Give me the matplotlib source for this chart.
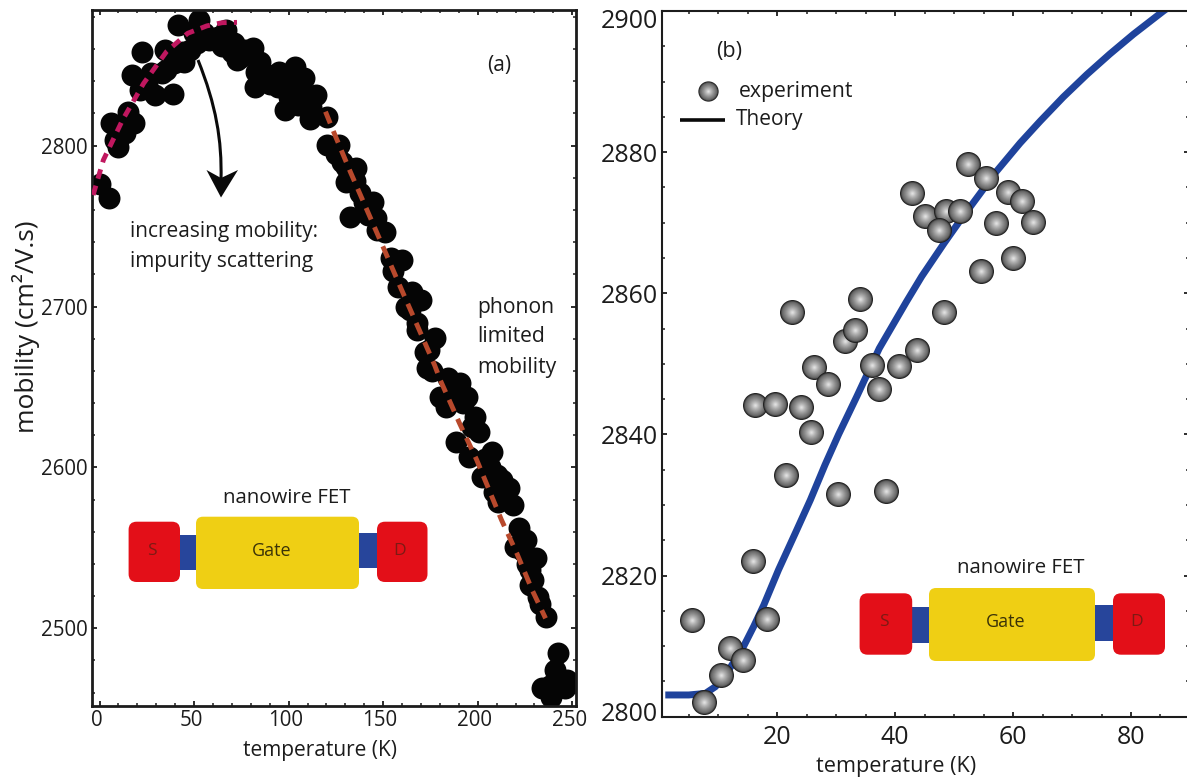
import numpy as np
import matplotlib
matplotlib.use("Agg")
import matplotlib.pyplot as plt
from matplotlib.patches import FancyBboxPatch, Rectangle, PathPatch, Polygon
from matplotlib.path import Path
from matplotlib.transforms import Affine2D, ScaledTranslation
from matplotlib.ticker import MultipleLocator

plt.rcParams['font.family'] = ['Open Sans', 'DejaVu Sans']

# ---------- data, panel (a) ----------
temp_a = [0.4,5.1,6.1,9.7,8.1,13.2,18.2,15.2,17.2,22.7,21.3,29.4,38.9,34.4,35.4,39.5,44.6,41.5,47.6,52.7,
          51.6,57.7,62.8,66.8,70.9,72.9,77,81,82,83,89.1,98.2,94.2,103.3,98.2,108.3,103.3,109.4,114.4,111.4,
          120.5,120.5,126.6,130.6,135.7,130.6,137.7,144.8,132.6,141.8,150.9,146.8,153.9,160,158,165,170.1,164,168.1,177.2,
          174.2,173.2,184.3,190.4,180.2,194.4,183.3,188.3,198.5,200.5,195.4,207.6,206.6,202.5,212.6,208.6,216.7,210.6,218.7,221.8,
          225.8,219.7,230.9,227.8,227.8,231.9,235.9,242.4,241,233.9,246,239,247,
          12,25,27,33,44,50,55,60,65,70,75,85,90,95,100,105,110,112,100,105,
          125,128,135,140,146,155,162,168,172,176,186,192,197,204,210,214,224,226,229,233,236,243,239]
mob_a = [2776.2,2767.3,2813.9,2799.4,2803.5,2807.7,2814.3,2821.1,2843.9,2858.4,2834.6,2831.5,2831.9,2859.5,2847,2851.2,2852.2,2875,2859.5,2878.1,
         2863.6,2865.7,2867.7,2871.9,2863.6,2853.2,2859.5,2860.5,2836.7,2846,2843.9,2822.2,2836.7,2849.1,2841.8,2841.8,2834.6,2828.4,2831.5,2816.4,
         2818,2800.4,2800.4,2786.9,2785.9,2777.6,2770.4,2765.2,2755.5,2756.9,2746.6,2747.6,2730,2729,2712.4,2709.3,2704.1,2698,2685.4,2680.3,
         2673,2661.6,2655.4,2652.3,2644,2644,2637.8,2616,2631.6,2622.2,2606.7,2609.8,2600.5,2594.3,2592.2,2584.9,2587,2578.7,2576.7,2562.1,
         2554.9,2550.8,2543.5,2536.3,2526.9,2519.7,2507.3,2484.9,2474.1,2462.7,2462.7,2457.5,2468,
         2812,2838,2845,2845,2858,2870,2870,2866,2862,2858,2855,2852,2838,2846,2838,2842,2830,2824,2830,2825,
         2795,2790,2778,2765,2755,2722,2700,2690,2672,2660,2648,2640,2625,2605,2595,2585,2548,2540,2530,2515,2463,2465,2465]
imp_t = [-3.4,2.0,12.2,23.3,35.4,46.6,56.7,64.8,72.7]
imp_m = [2769.3,2791,2816,2838.7,2858.4,2869.8,2874.4,2876.4,2876.6]
pho_t = [119.5,124.5,132.6,141.8,149.9,159,169.1,177.2,180.2,190.4,199.5,212.6,220.7,228.8,235.9]
pho_m = [2821.1,2806.6,2783.8,2759,2737.2,2712.4,2685.4,2663.6,2654.3,2627.4,2604.6,2567.3,2546.6,2523.8,2506.2]

# ---------- data, panel (b) ----------
temp_b = [52.4,55.4,42.8,59.2,61.5,45.1,48.6,51.0,47.5,63.3,57.1,60.0,54.6,48.2,22.5,34.1,31.5,33.2,43.7,26.3,
          36.0,40.6,28.6,37.3,16.3,19.6,24.0,25.8,21.4,30.3,38.5,15.8,5.6,18.3,12.0,14.2,10.5,7.6]
mob_b = [2878.3,2876.3,2874.2,2874.4,2873.1,2871.0,2871.7,2871.7,2869.0,2870.1,2869.9,2865.0,2863.2,2857.3,2857.3,2859.2,2853.2,2854.8,2851.9,2849.6,
         2849.9,2849.7,2847.2,2846.5,2844.2,2844.3,2843.9,2840.3,2834.3,2831.5,2832.0,2822.1,2813.7,2813.9,2809.8,2808.0,2805.9,2802.1]
theory_t = [1.0,5.0,7.8,9.5,11.5,14.0,16.0,17.7,20.2,23.05,25.6,28.1,30.4,33.5,37.3,41.9,44.5,48.3,51.0,54.1,57.2,61.2,64.6,68.5,72.5,76.4,80.4,85.5,86.5]
theory_m = [2803.08,2803.08,2803.3,2804.25,2806.3,2809.5,2812.8,2815.8,2820.8,2826,2830.7,2835.7,2840,2845.4,2852.2,2858.8,2862.4,2867.1,2870.3,2873.8,2877.3,2881.3,2884.4,2887.8,2891,2893.9,2896.7,2900,2900.6]

W, H = 1187, 783
fig = plt.figure(figsize=(W/100, H/100), dpi=100, facecolor='white')
px = Affine2D().scale(1, -1).translate(0, H)

def make_axes(l, t, r, b):
    return fig.add_axes([l/W, 1-b/H, (r-l)/W, (b-t)/H])

INK = '#1c1c1c'

# ---------- panel (a) ----------
axa = make_axes(92, 9.5, 576, 706)
axa.set_xlim(-4, 252)
axa.set_ylim(2451.7, 2884.6)
axa.scatter(temp_a, mob_a, s=250, c='#050505', linewidths=0, zorder=2)
axa.plot(imp_t, imp_m, color='#c0175f', lw=3.5, ls=(0, (2.0, 1.5)), zorder=3)
axa.plot(pho_t, pho_m, color='#b8492c', lw=3.5, ls=(0, (2.6, 1.7)), zorder=3)
axa.xaxis.set_major_locator(MultipleLocator(50))
axa.xaxis.set_minor_locator(MultipleLocator(10))
axa.yaxis.set_major_locator(MultipleLocator(100))
axa.yaxis.set_minor_locator(MultipleLocator(20))

# ---------- panel (b) ----------
axb = make_axes(662.4, 11, 1188.5, 716.7)
axb.set_xlim(0.51, 89.75)
axb.set_ylim(2800, 2900)
axb.plot(theory_t, theory_m, color='#1f439c', lw=5, zorder=2, solid_capstyle='butt', solid_joinstyle='round')
fracs = np.linspace(1.0, 0.08, 14)
def sphere(ax, x, y, d, z):
    for i, f in enumerate(fracs):
        g = np.interp(f, [0.08, 0.3, 0.6, 0.85, 0.93, 1.0], [0.88, 0.72, 0.54, 0.40, 0.26, 0.12])
        ax.scatter([x], [y], s=(d*f)**2, color=(g, g, g), linewidths=0, zorder=z + i*0.001, clip_on=False)
for k in range(len(temp_b)):
    sphere(axb, temp_b[k], mob_b[k], 18, 3 + k*0.1)
axb.xaxis.set_major_locator(MultipleLocator(20))
axb.xaxis.set_minor_locator(MultipleLocator(5))
axb.yaxis.set_major_locator(MultipleLocator(20))
axb.yaxis.set_minor_locator(MultipleLocator(5))

for ax, lw, size, pad in ((axa, 2.0, 14.8, 3), (axb, 1.5, 18, 3.5)):
    for s in ax.spines.values():
        s.set_linewidth(lw)
        s.set_color(INK)
    ax.tick_params(which='major', direction='in', top=True, right=True, length=3.6,
                   width=1.3, color=INK, labelsize=size, labelcolor=INK, pad=pad)
    ax.tick_params(which='minor', direction='in', top=True, right=True, length=2.2,
                   width=1.1, color=INK)

axa.tick_params(axis='x', which='major', pad=3)
axb.tick_params(axis='x', which='major', pad=6)

def shift(label, dx, dy):
    label.set_transform(label.get_transform() + ScaledTranslation(dx/100, dy/100, fig.dpi_scale_trans))
for lab in axa.get_xticklabels():
    shift(lab, -3, 0)
for lab in axb.get_yticklabels():
    if lab.get_text() == '2900':
        shift(lab, 0, -8)
    if lab.get_text() == '2800':
        shift(lab, 0, 5)

axa.set_xlabel('temperature (K)', fontsize=15, color=INK, va='center')
axa.xaxis.set_label_coords(319.6, 750.7, transform=px)
axb.set_xlabel('temperature (K)', fontsize=15.6, color=INK, va='center')
axb.xaxis.set_label_coords(895.8, 766.7, transform=px)
axa.set_ylabel('mobility (cm²/V.s)', fontsize=19, color=INK, va='center')
axa.yaxis.set_label_coords(26, 327, transform=px)

# ---------- overlay layer in picture pixels ----------
leg = fig.add_axes([0, 0, 1, 1], facecolor='none', zorder=5)
leg.set_xlim(0, W); leg.set_ylim(H, 0); leg.axis('off')

def T(x, y, s, size=14, ha='left', color=INK):
    leg.text(x, y, s, fontsize=size, ha=ha, va='center', color=color, zorder=8)

T(498.7, 66, '(a)', 15, 'center')
T(130, 232, 'increasing mobility:', 15)
T(130, 262, 'impurity scattering', 15)
T(477, 308, 'phonon', 15.2)
T(477, 337, 'limited', 15.2)
T(477, 367, 'mobility', 15.2)
T(729, 51, '(b)', 15.5, 'center')
T(739, 91, 'experiment', 15.3)
T(736, 119, 'Theory', 15)

arrow = Path([(198, 60), (216, 105), (222, 140), (221, 180)],
             [Path.MOVETO, Path.CURVE4, Path.CURVE4, Path.CURVE4])
leg.add_patch(PathPatch(arrow, fc='none', ec='#0a0a0a', lw=2.2, zorder=6))
leg.add_patch(Polygon([(206.5, 170), (221, 178), (238, 170), (221, 197.5)], closed=True,
                      fc='#0a0a0a', ec='none', zorder=6))

sphere(leg, 707.7, 91, 14.6, 3)
leg.plot([679.5, 725], [120, 120], color='#0a0a0a', lw=2.6, solid_capstyle='butt')

# ---------- device sketches ----------
RED, BLUE, GOLD = '#e30f18', '#27459b', '#efcf14'
def rbox(x0, y0, x1, y1, color, r=8):
    leg.add_patch(FancyBboxPatch((x0+r, y0+r), x1-x0-2*r, y1-y0-2*r,
                                 boxstyle=f'round,pad={r},rounding_size={r}', fc=color, ec='none', zorder=4))
def fet(sx0, sx1, gx0, gx1, dx0, dx1, sy0, sy1, gy0, gy1, b1, b2, tS, tG, tD, ty, tl, tly):
    leg.add_patch(Rectangle((sx1-1, b1[0]), gx0-sx1+2, b1[1]-b1[0], fc=BLUE, ec='none', zorder=3))
    leg.add_patch(Rectangle((gx1-1, b2[0]), dx0-gx1+2, b2[1]-b2[0], fc=BLUE, ec='none', zorder=3))
    rbox(sx0, sy0, sx1, sy1, RED)
    rbox(dx0, sy0, dx1, sy1, RED)
    rbox(gx0, gy0, gx1, gy1, GOLD, r=7)
    T(tS, ty, 'S', 12.5, 'center', color='#7d1a14')
    T(tG, ty, 'Gate', 13, 'center', color='#3a3208')
    T(tD, ty, 'D', 12.5, 'center', color='#7d1a14')
    T(tl, tly, 'nanowire FET', 14.7, 'center')

fet(128.6, 180, 196, 359, 377, 427.5, 521.7, 582, 516.7, 589, (535, 570.3), (533.3, 568.3),
    152, 271.7, 400, 551, 287, 497.7)
fet(859.6, 912.2, 929, 1095, 1113, 1165, 593.3, 654.7, 588, 661, (606.7, 642.7), (605, 640.7),
    884, 1005.8, 1137, 622, 1021, 568)

fig.savefig('out.png', dpi=100)
